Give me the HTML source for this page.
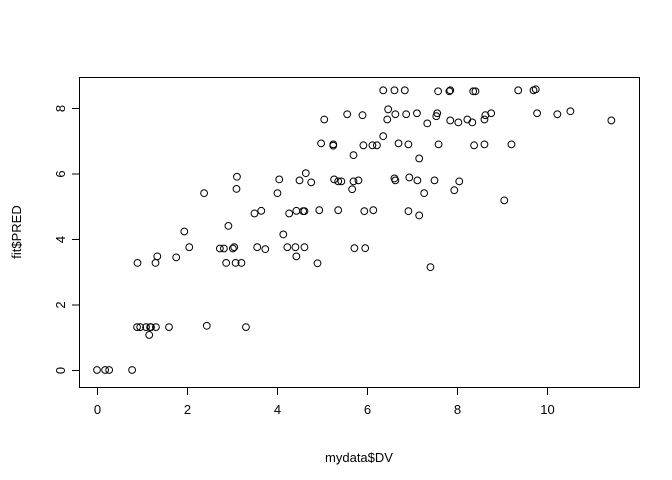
<!DOCTYPE html>
<html><head><meta charset="utf-8"><style>
body{margin:0;background:#fff}
svg{display:block;font-family:"Liberation Sans",Arial,sans-serif}
</style></head><body>
<svg id="chart" width="672" height="480"></svg>
<script>
const xTicks=[0,2,4,6,8,10];
const yTicks=[0,2,4,6,8];
const xVals=[0,0.18,0.27,0.78,0.89,0.96,1.09,1.18,1.20,1.31,1.60,2.44,3.31,1.16,
0.9,1.30,1.34,1.76,2.05,1.94,2.38,2.92,3.10,2.73,2.82,3.02,3.05,2.87,3.08,3.21,3.50,3.65,3.56,3.74,4.01,4.14,4.23,4.41,4.43,4.27,4.43,3.11,
6.36,6.61,6.84,7.58,7.83,7.85,6.47,5.05,5.56,5.90,6.45,6.63,6.87,7.11,7.34,7.56,7.54,7.85,8.03,8.23,
4.98,5.25,5.25,5.92,6.12,6.22,6.36,6.70,6.92,7.59,5.70,7.16,
4.05,4.50,4.64,4.76,5.27,5.36,5.43,5.70,5.81,5.67,6.61,6.63,6.94,7.12,7.50,8.05,7.94,7.27,
4.58,4.61,4.94,5.36,5.94,6.14,6.92,7.16,4.61,5.72,5.96,4.90,7.41,
8.36,8.41,9.36,9.70,9.75,8.34,8.61,8.63,8.76,9.78,10.23,10.52,11.43,8.38,8.61,9.21,9.05];
const yVals=[0,0,0,0,1.31,1.31,1.31,1.31,1.31,1.31,1.31,1.35,1.31,1.07,
3.27,3.27,3.47,3.44,3.75,4.23,5.40,4.40,5.53,3.71,3.71,3.71,3.75,3.27,3.27,3.27,4.78,4.86,3.75,3.69,5.40,4.14,3.75,3.75,3.47,4.78,4.86,5.90,
8.54,8.54,8.54,8.51,8.51,8.54,7.96,7.65,7.81,7.78,7.65,7.81,7.81,7.84,7.53,7.84,7.75,7.62,7.56,7.65,
6.92,6.89,6.85,6.86,6.86,6.86,7.14,6.92,6.89,6.89,6.56,6.46,
5.82,5.79,6.01,5.73,5.82,5.76,5.76,5.76,5.79,5.52,5.85,5.79,5.88,5.79,5.79,5.76,5.49,5.40,
4.85,4.85,4.88,4.88,4.85,4.88,4.85,4.72,3.75,3.72,3.72,3.26,3.14,
8.51,8.51,8.54,8.54,8.57,7.56,7.65,7.78,7.84,7.84,7.81,7.90,7.62,6.86,6.89,6.89,5.18];
const NS="http://www.w3.org/2000/svg";
const svg=document.getElementById('chart');
const sx=v=>97+v*45;
const sy=v=>370-v*32.75;
function mk(t,a,p){const e=document.createElementNS(NS,t);for(const k in a)e.setAttribute(k,a[k]);(p||svg).appendChild(e);return e;}
const box=mk('rect',{x:79.5,y:77.5,width:560,height:310,fill:'none',stroke:'#000'});


const xa=mk('g',{});


mk('line',{x1:sx(xTicks[0]),x2:sx(xTicks[xTicks.length-1]),y1:387.5,y2:387.5,stroke:'#000'},xa);
xTicks.forEach(t=>{
  mk('line',{x1:sx(t)+.5,x2:sx(t)+.5,y1:387.5,y2:395,stroke:'#000'},xa);
  const tx=mk('text',{x:sx(t)+.5,y:414,'text-anchor':'middle','font-size':13},xa);
  tx.textContent=t;
  
  
});
const ya=mk('g',{});


mk('line',{x1:79.5,x2:79.5,y1:sy(yTicks[0]),y2:sy(yTicks[yTicks.length-1]),stroke:'#000'},ya);
yTicks.forEach(t=>{
  mk('line',{x1:72,x2:79.5,y1:sy(t)+.5,y2:sy(t)+.5,stroke:'#000'},ya);
  const tx=mk('text',{x:0,y:0,'text-anchor':'middle','font-size':13,transform:`translate(65,${sy(t)+.5}) rotate(-90)`},ya);
  tx.textContent=t;
  
  
});
const xt=mk('text',{x:359,y:462,'text-anchor':'middle','font-size':13});
xt.textContent='mydata$DV';


const yt=mk('text',{x:0,y:0,'text-anchor':'middle','font-size':13,transform:'translate(21,232) rotate(-90)'});
yt.textContent='fit$PRED';


const pts=mk('g',{});


xVals.forEach((x,i)=>{
  const c=mk('circle',{cx:sx(x),cy:sy(yVals[i]),r:3.4,fill:'none',stroke:'#000','stroke-width':1},pts);
  
  
});
</script>
</body></html>
